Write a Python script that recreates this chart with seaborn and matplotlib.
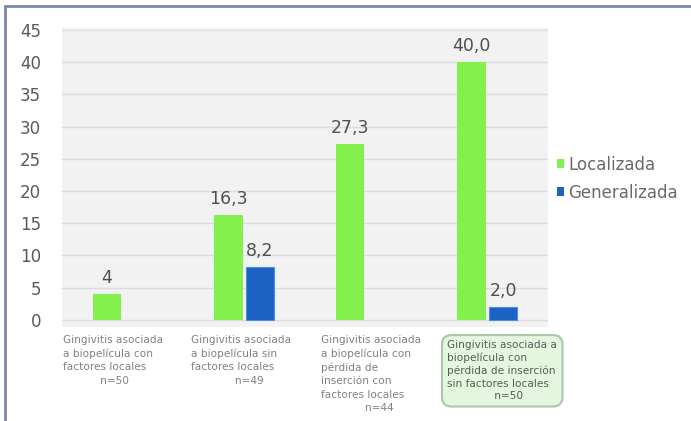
import numpy as np
import pandas as pd
import matplotlib
matplotlib.use('Agg')
import matplotlib.pyplot as plt
import matplotlib.transforms as mtransforms
from matplotlib.lines import Line2D
import seaborn as sns

# datos
grupos = [
    'Gingivitis asociada\na biopelícula con\nfactores locales\n           n=50',
    'Gingivitis asociada\na biopelícula sin\nfactores locales\n             n=49',
    'Gingivitis asociada\na biopelícula con\npérdida de\ninserción con\nfactores locales\n             n=44',
    'Gingivitis asociada a\nbiopelícula con\npérdida de inserción\nsin factores locales\n              n=50',
]
series = ['Localizada', 'Generalizada']
localizada = [4, 16.3, 27.3, 40.0]
generalizada = [np.nan, 8.2, np.nan, 2.0]
etiquetas_loc = ['4', '16,3', '27,3', '40,0']
etiquetas_gen = ['', '8,2', '', '2,0']
yticks = [0, 5, 10, 15, 20, 25, 30, 35, 40, 45]

df = pd.DataFrame({
    'grupo': grupos * 2,
    'serie': [series[0]] * 4 + [series[1]] * 4,
    'valor': localizada + generalizada,
})

sns.set_style('white')
plt.rcParams['font.family'] = ['DejaVu Sans']

fig = plt.figure(figsize=(6.91, 4.21), dpi=100)
ax = fig.add_axes([62 / 691, 1 - 327 / 421, 486 / 691, 299 / 421])
ax.set_facecolor('#f2f2f2')

verde = '#84f04e'
azul = '#1c62c2'
sns.barplot(data=df, x='grupo', y='valor', hue='serie', order=grupos,
            hue_order=series, palette=[verde, azul], saturation=1,
            width=0.52, gap=0.11, ax=ax, linewidth=0, err_kws={'linewidth': 0})

# borde claro en las barras azules
for bar in ax.containers[1]:
    bar.set_edgecolor('#4a8fe0')
    bar.set_linewidth(0.8)

ax.bar_label(ax.containers[0], labels=[e for e in etiquetas_loc if e],
             padding=5, fontsize=12.5, color='#4f4f4f')
ax.bar_label(ax.containers[1], labels=[e for e in etiquetas_gen if e],
             padding=5, fontsize=12.5, color='#4f4f4f')

ax.set_ylim(-1.1, 45.3)
ax.set_xlim(-0.5, 3.5)
ax.set_yticks(yticks)
ax.set_yticklabels([str(t) for t in yticks], fontsize=12, color='#5a5a5a')
ax.yaxis.grid(True, color='#dcdcdc', linewidth=1)
ax.set_axisbelow(True)
ax.tick_params(axis='both', length=0)
ax.tick_params(axis='y', pad=15)
ax.tick_params(axis='x', pad=6)
ax.set_xlabel('')
ax.set_ylabel('')
for s in ax.spines.values():
    s.set_visible(False)

# etiquetas del eje x (desplazamiento en px)
desplaz = [(-10, 0), (-3, 0), (5, 0), (15, -5)]
for lbl, (dx, dy) in zip(ax.get_xticklabels(), desplaz):
    lbl.set_fontsize(7.6)
    lbl.set_color('#808080')
    lbl.set_multialignment('left')
    lbl.set_linespacing(1.4)
    lbl.set_verticalalignment('top')
    lbl.set_transform(lbl.get_transform() +
                      mtransforms.ScaledTranslation(dx / 100, dy / 100, fig.dpi_scale_trans))
ult = ax.get_xticklabels()[-1]
ult.set_color('#5a5a5a')
ult.set_linespacing(1.3)
ult.set_bbox(dict(boxstyle='round,pad=0.5,rounding_size=0.9',
                  fc='#e4f6dd', ec='#a8c8ac', lw=1.5))

# leyenda
leg = ax.legend(loc='upper left', bbox_to_anchor=(550 / 691, 1 - 149 / 421),
                bbox_transform=fig.transFigure, frameon=False, fontsize=12,
                handlelength=0.45, handleheight=0.45, handletextpad=0.25,
                labelspacing=0.6, borderaxespad=0)
for t in leg.get_texts():
    t.set_color('#6a6a6a')

# marco de la imagen
fig.add_artist(Line2D([5 / 691, 5 / 691], [0, 1 - 6 / 421],
                      transform=fig.transFigure, color='#7a88a8', lw=2))
fig.add_artist(Line2D([5 / 691, 1], [1 - 6 / 421, 1 - 6 / 421],
                      transform=fig.transFigure, color='#7a88a8', lw=2))

fig.savefig('out.png', dpi=100)
